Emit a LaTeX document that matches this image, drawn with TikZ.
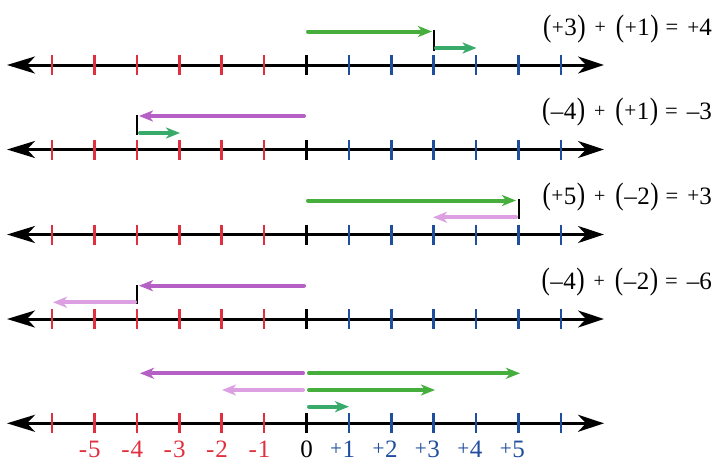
\documentclass[tikz,border=0pt]{standalone}
\usepackage{fontspec}
\setmainfont{Liberation Serif}
\usepackage{graphicx}
\usetikzlibrary{arrows.meta}
\definecolor{negred}{HTML}{E0303F}
\definecolor{posblue}{HTML}{1F4E9E}
\definecolor{grn}{HTML}{45AE3C}
\definecolor{tgrn}{HTML}{38AA6A}
\definecolor{purp}{HTML}{B460C4}
\definecolor{lpurp}{HTML}{DCA0E2}
\newcommand\pin{\raisebox{0.055em}{\scalebox{0.85}{+}}}
\newcommand\pmid{\raisebox{0.07em}{\scalebox{0.8}{+}}}
\newcommand\mn{–}
\newcommand\eqs{\raisebox{0.04em}{\scalebox{0.9}{=}}}
\newcommand\lp{\raisebox{-0.02em}{\scalebox{1}[1.24]{(}}}
\newcommand\rp{\raisebox{-0.02em}{\scalebox{1}[1.24]{)}}}
\newcommand\grp[2]{\lp\hspace{0.5pt}#1\hspace{0.5pt}#2\hspace{0.5pt}\rp}
\newcommand\eqn[5]{\grp{#1}{#2}\hspace{9pt}\pmid\hspace{10pt}\grp{#3}{#4}\hspace{7pt}\eqs\hspace{9pt}#5}
\begin{document}
\begin{tikzpicture}[x=1pt,y=-1pt,
  axis/.style={line width=3pt,{Stealth[length=28pt,width=17pt,inset=8pt]}-{Stealth[length=26pt,width=17pt,inset=8pt]}},
  tickmk/.style={line width=2.6pt},
  vec/.style={line width=4pt,line cap=round,-{Stealth[length=14pt,width=11pt,inset=4pt]}},
  markline/.style={line width=2pt},
  eqlabel/.style={anchor=base east,inner sep=0pt,font=\fontsize{25}{30}\selectfont},
  numlabel/.style={anchor=base,inner sep=0pt,font=\fontsize{25}{30}\selectfont}]
\useasboundingbox (0,0) rectangle (720,466);
\foreach \r/\y in {1/65,2/149.5,3/234.5,4/319,5/423.3}{
  \coordinate (L\r) at (7,\y);
  \coordinate (R\r) at (604,\y);
  \draw[axis] (L\r) -- (R\r);
  \foreach \n in {-6,...,-1}
    \draw[tickmk,negred] ({306.5+42.4*\n},\y-10) -- ({306.5+42.4*\n},\y+10);
  \foreach \n in {1,...,6}
    \draw[tickmk,posblue] ({306.5+42.4*\n},\y-10) -- ({306.5+42.4*\n},\y+10);
  \draw[tickmk,black] (306.5,\y-10) -- (306.5,\y+10);
}
% row 1
\coordinate (a1s) at (308,31.5); \coordinate (a1e) at (432,31.5);
\coordinate (m1t) at (433.7,30); \coordinate (m1b) at (433.7,51);
\coordinate (b1s) at (436,48); \coordinate (b1e) at (476.5,48);
\draw[vec,grn] (a1s) -- (a1e);
\draw[markline] (m1t) -- (m1b);
\draw[vec,tgrn] (b1s) -- (b1e);
\node[eqlabel] (e1) at (712,35.5) {\eqn{\pin}{3}{\pin}{1}{\pin4}};
% row 2
\coordinate (a2s) at (304,116); \coordinate (a2e) at (139,116);
\coordinate (m2t) at (137,115); \coordinate (m2b) at (137,135);
\coordinate (b2s) at (140,133); \coordinate (b2e) at (180,133);
\draw[vec,purp] (a2s) -- (a2e);
\draw[markline] (m2t) -- (m2b);
\draw[vec,tgrn] (b2s) -- (b2e);
\node[eqlabel] (e2) at (712,119) {\eqn{\mn}{4}{\pin}{1}{\mn3}};
% row 3
\coordinate (a3s) at (308,200.5); \coordinate (a3e) at (516,200.5);
\coordinate (m3t) at (518.5,199); \coordinate (m3b) at (518.5,219);
\coordinate (b3s) at (516,217.3); \coordinate (b3e) at (433,217.3);
\draw[vec,grn] (a3s) -- (a3e);
\draw[markline] (m3t) -- (m3b);
\draw[vec,lpurp] (b3s) -- (b3e);
\node[eqlabel] (e3) at (712,204) {\eqn{\pin}{5}{\mn}{2}{\pin3}};
% row 4
\coordinate (a4s) at (304,285.7); \coordinate (a4e) at (139,285.7);
\coordinate (m4t) at (137,285); \coordinate (m4b) at (137,304);
\coordinate (b4s) at (135,302.3); \coordinate (b4e) at (53,302.3);
\draw[vec,purp] (a4s) -- (a4e);
\draw[markline] (m4t) -- (m4b);
\draw[vec,lpurp] (b4s) -- (b4e);
\node[eqlabel] (e4) at (712,289) {\eqn{\mn}{4}{\mn}{2}{\mn6}};
% row 5
\coordinate (p5s) at (303,373.3); \coordinate (p5e) at (140,373.3);
\coordinate (q5s) at (303,390); \coordinate (q5e) at (222,390);
\coordinate (g5s) at (309,373.3); \coordinate (g5e) at (520,373.3);
\coordinate (h5s) at (309,390); \coordinate (h5e) at (435,390);
\coordinate (t5s) at (309,406.7); \coordinate (t5e) at (349,406.7);
\draw[vec,purp] (p5s) -- (p5e);
\draw[vec,lpurp] (q5s) -- (q5e);
\draw[vec,grn] (g5s) -- (g5e);
\draw[vec,grn] (h5s) -- (h5e);
\draw[vec,tgrn] (t5s) -- (t5e);
% labels
\foreach \n in {1,...,5}
  \node[numlabel,text=negred] (n\n) at ({306.5-42.4*\n},457)
    {\llap{-\hspace{0.04em}}\n};
\node[numlabel] (z0) at (306.5,457) {0};
\foreach \n in {1,...,5}
  \node[numlabel,text=posblue] (p\n) at ({306.5+42.4*\n},457)
    {\llap{\pin\hspace{0.02em}}\n};
\end{tikzpicture}
\end{document}
